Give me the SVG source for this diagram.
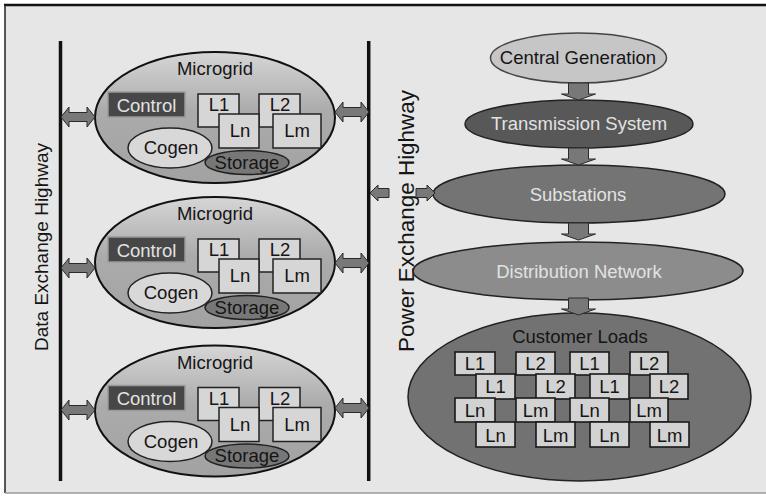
<svg xmlns="http://www.w3.org/2000/svg" width="766" height="496" viewBox="0 0 766 496">
<defs>
<linearGradient id="mgGrad" x1="0" y1="0" x2="0" y2="1">
<stop offset="0" stop-color="#d6d6d6"/>
<stop offset="0.45" stop-color="#ababab"/>
<stop offset="1" stop-color="#a2a2a2"/>
</linearGradient>
<path id="dbl" d="M0,0 L8,-10 L8,-4.5 L26,-4.5 L26,-10 L34,0 L26,10 L26,4.5 L8,4.5 L8,10 Z"/>
<path id="down" d="M-10,0 L10,0 L10,11 L17,11 L0,17 L-17,11 L-10,11 Z"/>
<g id="mg">
<ellipse cx="215" cy="117.5" rx="120" ry="65.5" fill="url(#mgGrad)" stroke="#111" stroke-width="2"/>
<text x="215" y="75" class="t dk">Microgrid</text>
<rect x="108" y="92" width="77" height="25" fill="#474747" stroke="#9a9a9a" stroke-width="1.5"/>
<text x="146.5" y="111.5" class="t lt">Control</text>
<rect x="198" y="94" width="41" height="33" class="box"/>
<text x="219" y="111" class="t dk">L1</text>
<rect x="259" y="94" width="41" height="33" class="box"/>
<text x="280" y="111" class="t dk">L2</text>
<rect x="219" y="114" width="40" height="34" class="box"/>
<text x="240" y="137" class="t dk">Ln</text>
<rect x="273" y="114" width="48" height="34" class="box"/>
<text x="297" y="137" class="t dk">Lm</text>
<ellipse cx="170" cy="148" rx="42" ry="20" fill="#d8d8d8" stroke="#222" stroke-width="1.5"/>
<text x="171" y="154" class="t dk">Cogen</text>
<ellipse cx="247" cy="162.5" rx="42" ry="12" fill="#777" stroke="#222" stroke-width="1.5"/>
<text x="247" y="168.5" class="t dk">Storage</text>
</g>
</defs>
<style>
.t{font-family:"Liberation Sans",Arial,sans-serif;font-size:18.5px;text-anchor:middle}
.dk{fill:#151515}
.lt{fill:#e2e2e2}
.box{fill:#d6d6d6;stroke:#222;stroke-width:1.5}
.lb{fill:#d2d2d2;stroke:#1a1a1a;stroke-width:1.6}
.arr{fill:#787878;stroke:#2a2a2a;stroke-width:1}
.hw{stroke:#111;stroke-width:3.5}
</style>
<rect x="0" y="0" width="766" height="496" fill="#ffffff"/>
<rect x="5" y="5" width="761" height="488" fill="#e6e6e6"/>
<line x1="4" y1="5" x2="766" y2="5" stroke="#111" stroke-width="2.5"/>
<line x1="5" y1="5" x2="5" y2="493" stroke="#222" stroke-width="1.5"/>
<line x1="5" y1="493" x2="766" y2="493" stroke="#999" stroke-width="1.5"/>

<g id="highways">
<line x1="60.5" y1="41" x2="60.5" y2="481" class="hw"/>
<line x1="368.7" y1="41" x2="368.7" y2="481" class="hw"/>
<text transform="translate(48,247) rotate(-90)" class="t dk" style="font-size:19px">Data Exchange Highway</text>
<text transform="translate(414,221) rotate(-90)" class="t dk" style="font-size:22px" textLength="262" lengthAdjust="spacingAndGlyphs">Power Exchange Highway</text>
</g>

<g id="microgrid1"><use href="#mg"/></g>
<g id="microgrid2"><use href="#mg" transform="translate(0,145)"/></g>
<g id="microgrid3"><use href="#mg" transform="translate(0,293.5)"/></g>

<g id="central-generation">
<ellipse cx="578.5" cy="58" rx="88" ry="25" fill="#c6c6c6" stroke="#444" stroke-width="1.5"/>
<text x="578" y="64" class="t dk">Central Generation</text>
</g>
<g id="transmission-system">
<ellipse cx="579" cy="124" rx="114" ry="24" fill="#585858" stroke="#222" stroke-width="1.5"/>
<text x="579" y="130" class="t lt">Transmission System</text>
</g>
<g id="substations">
<ellipse cx="579" cy="194" rx="146" ry="29" fill="#747474" stroke="#222" stroke-width="1.5"/>
<text x="578" y="201" class="t lt">Substations</text>
</g>
<g id="distribution-network">
<ellipse cx="578" cy="271" rx="165" ry="29" fill="#8c8c8c" stroke="#222" stroke-width="1.5"/>
<text x="579" y="278" class="t lt">Distribution Network</text>
</g>
<g id="customer-loads">
<ellipse cx="579.5" cy="397" rx="171.5" ry="84" fill="#727272" stroke="#222" stroke-width="1.5"/>
<text x="580" y="343" class="t dk">Customer Loads</text>
<rect x="455" y="352" width="40" height="23" class="lb"/><text x="475" y="370" class="t dk">L1</text>
<rect x="516" y="352" width="39" height="23" class="lb"/><text x="535.5" y="370" class="t dk">L2</text>
<rect x="570" y="352" width="39" height="23" class="lb"/><text x="589.5" y="370" class="t dk">L1</text>
<rect x="630" y="352" width="38" height="23" class="lb"/><text x="649" y="370" class="t dk">L2</text>
<rect x="476" y="374" width="39" height="25" class="lb"/><text x="495.5" y="393" class="t dk">L1</text>
<rect x="536" y="374" width="39" height="25" class="lb"/><text x="555.5" y="393" class="t dk">L2</text>
<rect x="590" y="374" width="39" height="25" class="lb"/><text x="609.5" y="393" class="t dk">L1</text>
<rect x="650" y="374" width="38" height="25" class="lb"/><text x="669" y="393" class="t dk">L2</text>
<rect x="455" y="398" width="40" height="24" class="lb"/><text x="475" y="417" class="t dk">Ln</text>
<rect x="516" y="398" width="39" height="24" class="lb"/><text x="535.5" y="417" class="t dk">Lm</text>
<rect x="570" y="398" width="39" height="24" class="lb"/><text x="589.5" y="417" class="t dk">Ln</text>
<rect x="630" y="398" width="38" height="24" class="lb"/><text x="649" y="417" class="t dk">Lm</text>
<rect x="476" y="422" width="39" height="25" class="lb"/><text x="495.5" y="442" class="t dk">Ln</text>
<rect x="536" y="422" width="39" height="25" class="lb"/><text x="555.5" y="442" class="t dk">Lm</text>
<rect x="590" y="422" width="39" height="25" class="lb"/><text x="609.5" y="442" class="t dk">Ln</text>
<rect x="650" y="422" width="39" height="25" class="lb"/><text x="669.5" y="442" class="t dk">Lm</text>
</g>

<g id="connectors">
<use href="#dbl" class="arr" transform="translate(61,117)"/>
<use href="#dbl" class="arr" transform="translate(335,112)"/>
<use href="#dbl" class="arr" transform="translate(61,268)"/>
<use href="#dbl" class="arr" transform="translate(335,263)"/>
<use href="#dbl" class="arr" transform="translate(61,410)"/>
<use href="#dbl" class="arr" transform="translate(335,408)"/>
<path class="arr" d="M370,193 L378,185 L378,188.5 L389,188.5 L389,197.5 L378,197.5 L378,201 Z"/>
<path class="arr" d="M435,193 L427,185 L427,188.5 L416,188.5 L416,197.5 L427,197.5 L427,201 Z"/>
<use href="#down" class="arr" transform="translate(578.5,83)"/>
<use href="#down" class="arr" transform="translate(578.5,148)"/>
<use href="#down" class="arr" transform="translate(578.5,223)"/>
<use href="#down" class="arr" transform="translate(578.5,298)"/>
</g>
</svg>
